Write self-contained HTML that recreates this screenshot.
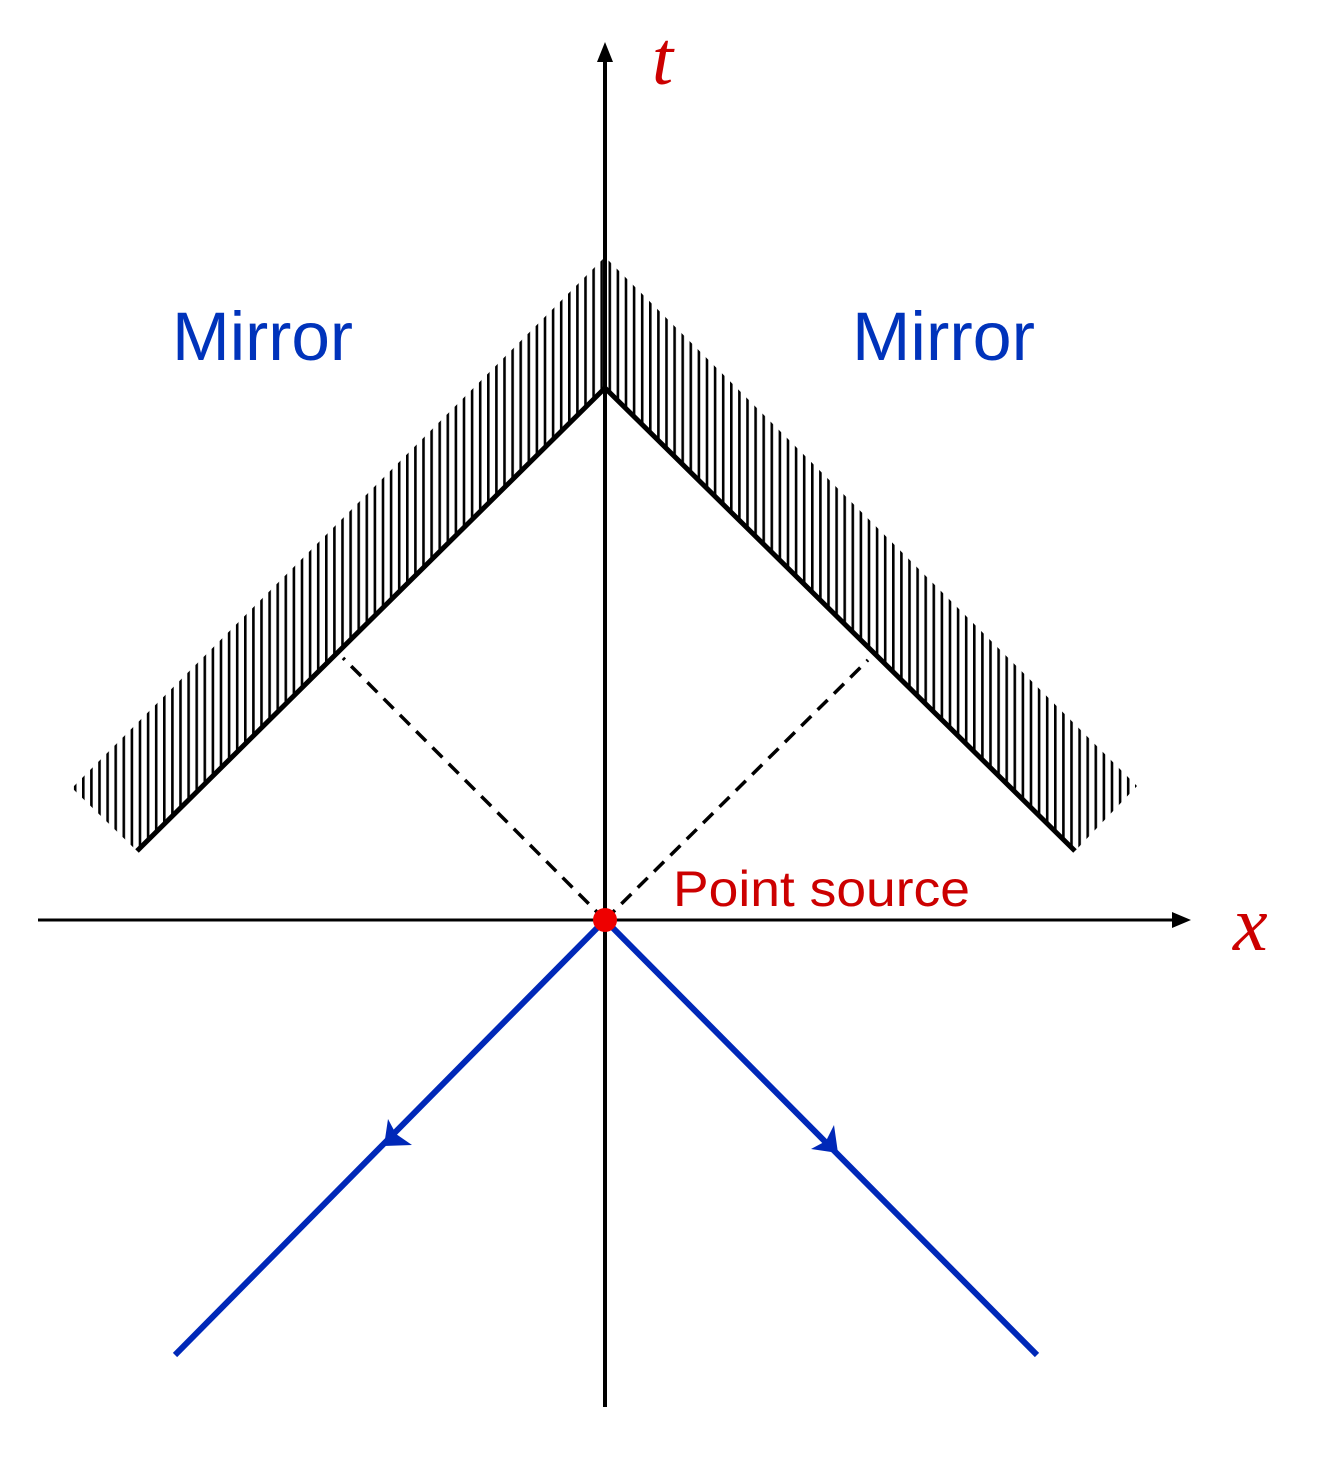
<!DOCTYPE html>
<html><head><meta charset="utf-8"><style>html,body{margin:0;padding:0;background:#fff}</style></head>
<body>
<svg width="1321" height="1455" viewBox="0 0 1321 1455" xmlns="http://www.w3.org/2000/svg">
<defs>
<pattern id="h" x="1" y="0" width="8.1" height="20" patternUnits="userSpaceOnUse">
<rect x="0" y="0" width="2.6" height="20" fill="#000"/>
</pattern>
<clipPath id="c"><polygon points="72,788 605,257 1137,786 1075,851 605,388 137,851"/></clipPath>
</defs>
<rect x="60" y="250" width="1090" height="610" fill="url(#h)" clip-path="url(#c)"/>
<polyline points="137,851 605,388 1075,851" fill="none" stroke="#000" stroke-width="5"/>
<line x1="605" y1="920" x2="343" y2="658" stroke="#000" stroke-width="3.5" stroke-dasharray="14,9"/>
<line x1="605" y1="920" x2="868" y2="660" stroke="#000" stroke-width="3.5" stroke-dasharray="14,9"/>
<line x1="38" y1="920" x2="1178" y2="920" stroke="#000" stroke-width="3"/>
<polygon points="1191,920 1172,912 1172,928" fill="#000"/>
<line x1="605" y1="1407" x2="605" y2="58" stroke="#000" stroke-width="4"/>
<polygon points="605,42 597,62 613,62" fill="#000"/>
<line x1="605" y1="920" x2="175" y2="1355" stroke="#0028b8" stroke-width="6"/>
<line x1="605" y1="920" x2="1037" y2="1355" stroke="#0028b8" stroke-width="6"/>
<polygon points="384,1146 388,1119 396,1134 412,1145" fill="#0028b8"/>
<polygon points="838,1153 811,1149 826,1141 834,1125" fill="#0028b8"/>
<circle cx="605" cy="920" r="12" fill="#ee0000"/>
<text x="172" y="360" font-family="Liberation Sans, sans-serif" font-size="69" fill="#0033bb" textLength="181" lengthAdjust="spacingAndGlyphs">Mirror</text>
<text x="852" y="360" font-family="Liberation Sans, sans-serif" font-size="69" fill="#0033bb" textLength="183" lengthAdjust="spacingAndGlyphs">Mirror</text>
<text x="673" y="906" font-family="Liberation Sans, sans-serif" font-size="50" fill="#cc0000" textLength="297" lengthAdjust="spacingAndGlyphs">Point source</text>
<text x="652" y="84" font-family="Liberation Serif, serif" font-style="italic" font-size="76" fill="#cc0000">t</text>
<text x="1233" y="950" font-family="Liberation Serif, serif" font-style="italic" font-size="78" fill="#cc0000">x</text>
</svg>
</body></html>
